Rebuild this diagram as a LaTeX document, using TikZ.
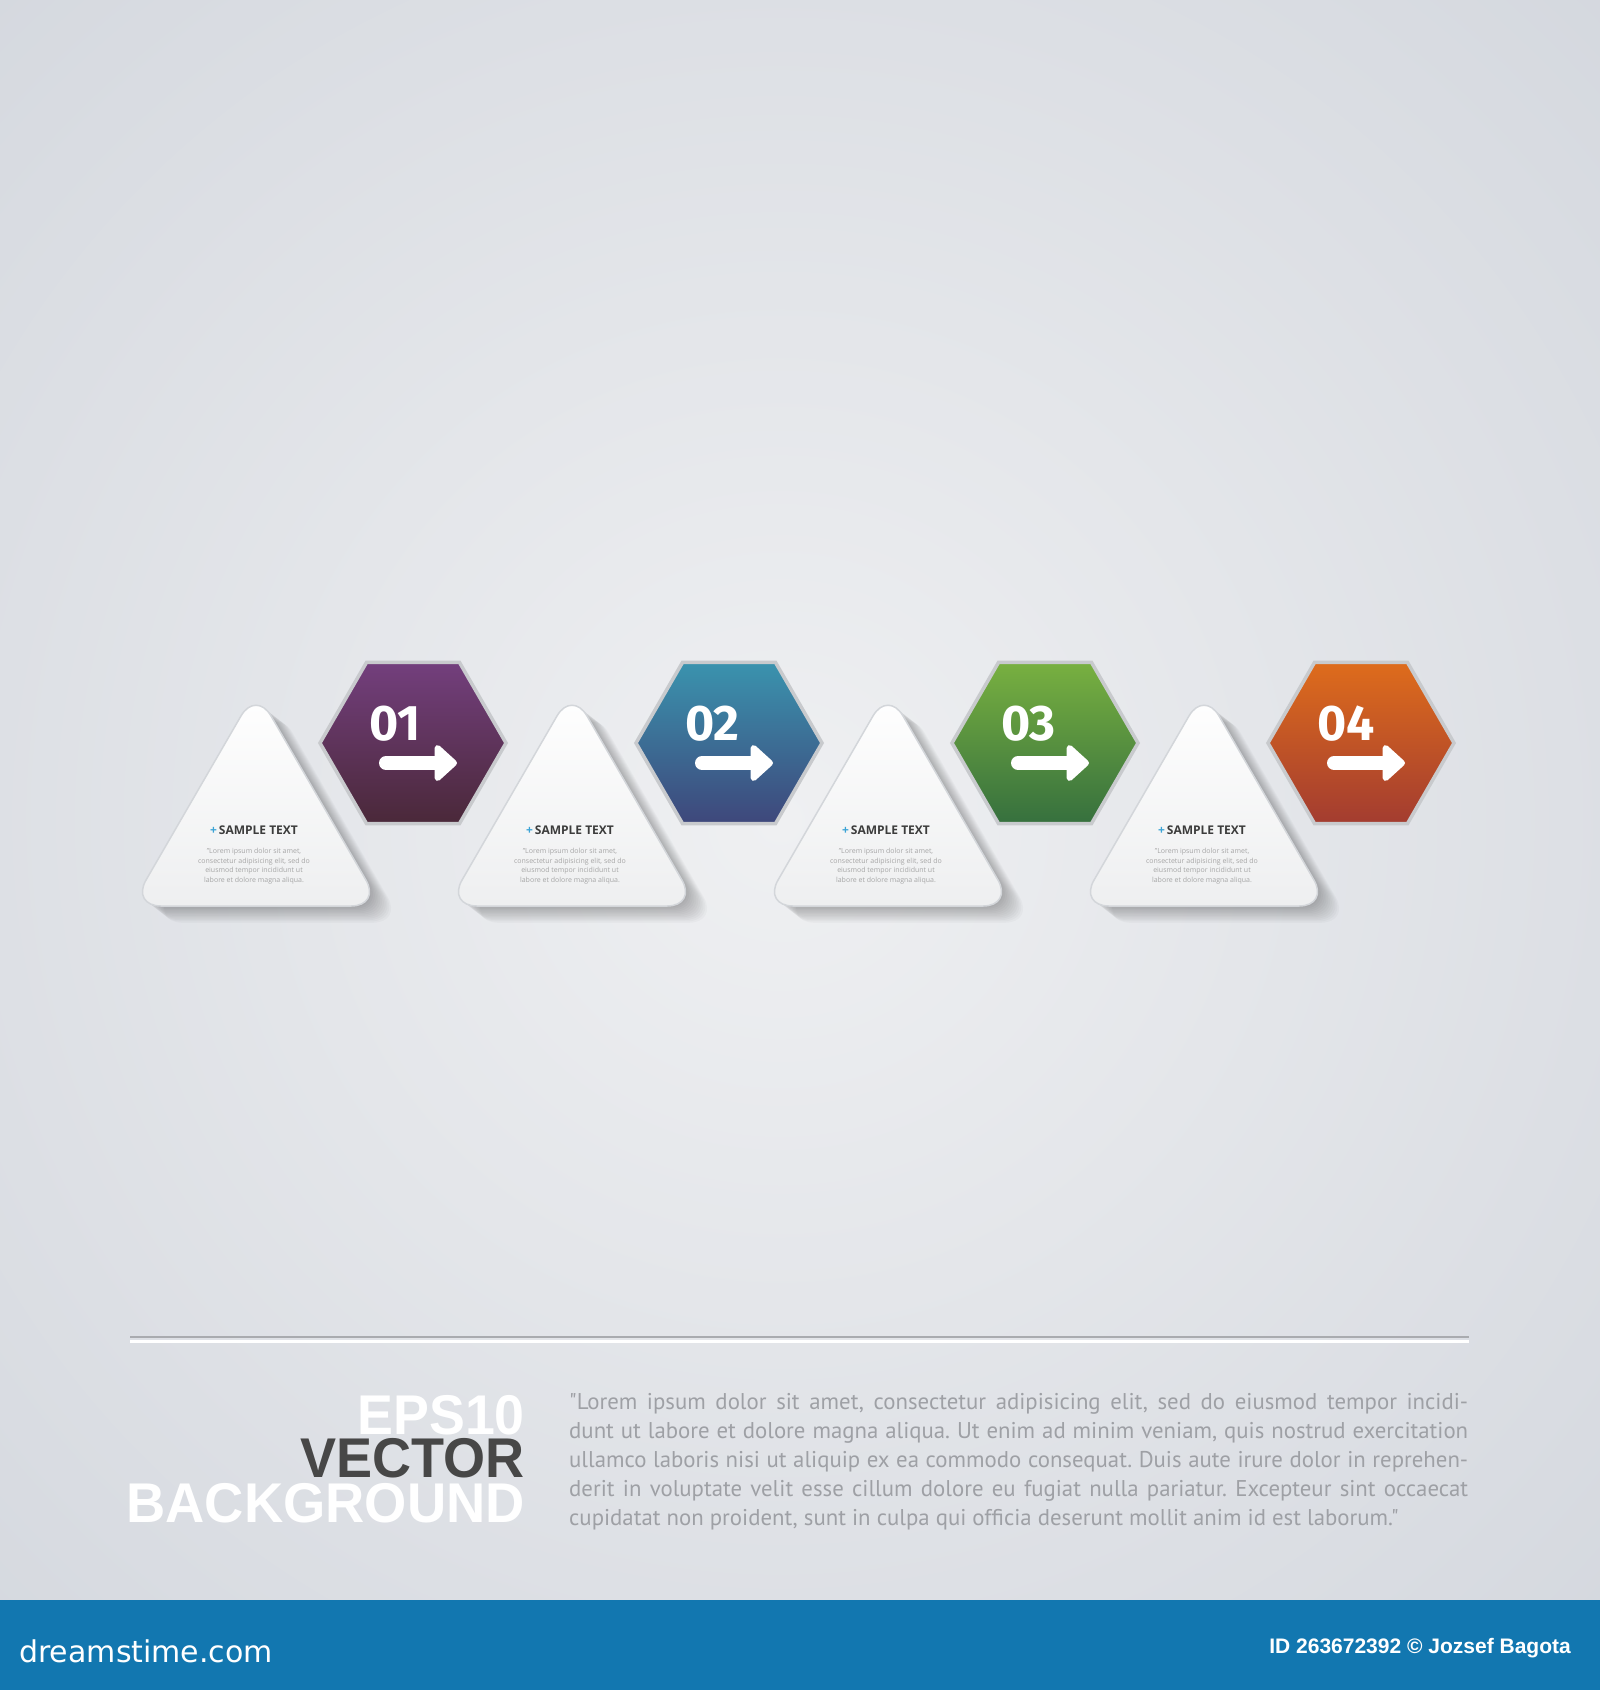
\documentclass[tikz,border=0pt]{standalone}
\usepackage{fontspec}
\setmainfont{Open Sans}
\newfontfamily\headfont{Liberation Sans}
\newfontfamily\numfont{Fira Sans}
\newfontfamily\parafont{PT Sans}
\newfontfamily\logofont{DejaVu Sans}
\usetikzlibrary{arrows.meta,shapes.geometric,positioning}

\definecolor{bgin}{HTML}{EFF0F2}
\definecolor{bgout}{HTML}{C6CBD4}
\definecolor{footblue}{HTML}{1277B0}
\definecolor{hexrim}{HTML}{C8CACD}
\definecolor{purpleA}{HTML}{733F7D}
\definecolor{purpleB}{HTML}{4A2839}
\definecolor{tealA}{HTML}{3A93AE}
\definecolor{tealB}{HTML}{3E477B}
\definecolor{greenA}{HTML}{78B040}
\definecolor{greenB}{HTML}{36703E}
\definecolor{orangeA}{HTML}{DE6C1C}
\definecolor{orangeB}{HTML}{A33C30}
\definecolor{titlegray}{HTML}{3C3C3C}
\definecolor{bodygray}{HTML}{A6A6A6}
\definecolor{paragray}{HTML}{9EA0A5}
\definecolor{vecgray}{HTML}{474747}
\definecolor{plusblue}{HTML}{3BA3D6}
\definecolor{rulegray}{HTML}{A9ABAF}
\definecolor{tripaper}{HTML}{EEEFF0}
\definecolor{triedge}{HTML}{D3D6DA}

\begin{document}
\frenchspacing
\begin{tikzpicture}[
    x = 1pt, y = -1pt, % pixel grid of the reference
    hexbox/.style = {regular polygon, regular polygon sides=6,
      minimum size=186pt, inner sep=0pt, draw=hexrim,
      line width=3.5pt, shading angle=45},
    numtext/.style = {font=\numfont\bfseries\fontsize{50}{50}\selectfont,
      text=white, inner sep=0pt, anchor=base west},
    stepline/.style = {white, line width=14pt, line cap=round,
      -{Triangle[round, length=24pt, width=42pt]}},
    tricard/.style = {rounded corners=30pt, top color=white,
      bottom color=tripaper, draw=triedge, line width=1.5pt},
    title/.style = {font=\bfseries\fontsize{12}{12}\selectfont,
      text=titlegray, inner sep=0pt, anchor=base},
    body/.style = {font=\fontsize{7}{9.5}\selectfont, text=bodygray,
      align=center, inner sep=0pt},
    headline/.style = {font=\headfont\bfseries\fontsize{56}{56}\selectfont,
      inner sep=0pt, anchor=base east, text height=40pt, text depth=0pt},
    paraline/.style = {font=\parafont\fontsize{22.8}{22.8}\selectfont,
      text=paragray, inner sep=0pt, anchor=base west,
      text height=16pt, text depth=4pt}
    ]

    \useasboundingbox (0,0) rectangle (1600,1690);

    % background
    \begin{scope}
      \clip (0,0) rectangle (1600,1600);
      \shade[inner color=bgin, outer color=bgout] (780,820) circle (1800);
    \end{scope}

    % cards and hexagons
    \foreach \i/\ca/\cb/\num in {0/purpleA/purpleB/01, 1/tealA/tealB/02,
                                 2/greenA/greenB/03, 3/orangeA/orangeB/04} {
      \begin{scope}[xshift=256+316*\i]
        \foreach \s in {1,...,12}
          \fill[black, opacity=0.022, rounded corners=30pt,
                shift={(\s*1.8,\s*1.4)}]
            (0,690) -- (125,906) -- (-125,906) -- cycle;
        \path[tricard] (0,690) -- (125,906) -- (-125,906) -- cycle;
      \end{scope}

      \node[title] (title\i) at (256+316*\i-2,834)
        {\textcolor{plusblue}{+}\,SAMPLE TEXT};
      \node[body, below=14pt of title\i] (body\i)
        {"Lorem ipsum dolor sit amet,\\consectetur adipisicing elit, sed do\\
         eiusmod tempor incididunt ut\\labore et dolore magna aliqua.};

      \node[hexbox, top color=\ca, bottom color=\cb] (hex\i)
        at (413+316*\i,743) {};
      \node[numtext] (num\i) at ([shift={(-44,-3)}]hex\i.center) {\num};
      \coordinate (tail\i) at ([shift={(-27,20)}]hex\i.center);
      \coordinate (tip\i) at ([shift={(44,20)}]hex\i.center);
      \draw[stepline] (tail\i) -- (tip\i);
    }

    % rule
    \draw[rulegray, line width=2pt] (130,1337) -- (1469,1337);
    \draw[white, line width=3pt] (130,1341) -- (1469,1341);

    % headline
    \node[headline, text=white] (eps) at (525,1434) {\scalebox{0.96}[1]{EPS10}};
    \node[headline, text=vecgray] (vec) at ([yshift=-43pt]eps.base east)
      {\scalebox{0.965}[1]{VECTOR}};
    \node[headline, text=white] (bkg) at ([yshift=-45pt]vec.base east)
      {\scalebox{0.97}[1]{BACKGROUND}};

    % paragraph
    \node[paraline] (para1) at (569,1409) {\makebox[899pt][s]{"Lorem ipsum dolor sit amet, consectetur adipisicing elit, sed do eiusmod tempor incidi-}};
    \node[paraline] (para2) at ([yshift=-29pt]para1.base west) {\makebox[899pt][s]{dunt ut labore et dolore magna aliqua. Ut enim ad minim veniam, quis nostrud exercitation}};
    \node[paraline] (para3) at ([yshift=-29pt]para2.base west) {\makebox[899pt][s]{ullamco laboris nisi ut aliquip ex ea commodo consequat. Duis aute irure dolor in reprehen-}};
    \node[paraline] (para4) at ([yshift=-29pt]para3.base west) {\makebox[899pt][s]{derit in voluptate velit esse cillum dolore eu fugiat nulla pariatur. Excepteur sint occaecat}};
    \node[paraline] (para5) at ([yshift=-29pt]para4.base west) {cupidatat non proident, sunt in culpa qui officia deserunt mollit anim id est laborum."};

    % footer
    \fill[footblue] (0,1600) rectangle (1600,1690);
    \node[font=\logofont\fontsize{30}{30}\selectfont, text=white,
          inner sep=0pt, anchor=base west] (logo) at (19,1662) {dreamstime.com};
    \node[font=\headfont\bfseries\fontsize{21}{21}\selectfont, text=white,
          inner sep=0pt, anchor=base east] (credit) at (1571,1653)
          {ID 263672392 © Jozsef Bagota};
\end{tikzpicture}
\end{document}
